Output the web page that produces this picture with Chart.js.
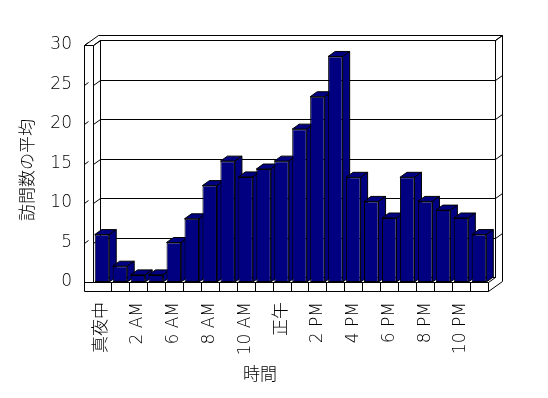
<!DOCTYPE html>
<html>
<head>
<meta charset="utf-8">
<script src="https://cdn.jsdelivr.net/npm/chart.js@4/dist/chart.umd.min.js"></script>
<style>
    html, body { margin: 0; padding: 0; background: #fff; }
    canvas { display: block; }
</style>
</head>
<body>
<canvas id="chart" width="548" height="398"></canvas>
<script>
// tick labels as shown under every other bar
const xLabels = ['真夜中', '', '2 AM', '', '6 AM', '', '8 AM', '', '10 AM', '', '正午', '',
    '2 PM', '', '4 PM', '', '6 PM', '', '8 PM', '', '10 PM', ''];
const visits = [6.0, 2.0, 0.9, 0.9, 5.0, 8.0, 12.2, 15.3, 13.3, 14.3, 15.3, 19.35,
    23.45, 28.55, 13.25, 10.2, 8.1, 13.25, 10.2, 9.1, 8.1, 6.0];
const yTitle = '訪問数の平均';
const xTitle = '時間';

const FONT = "'DejaVu Sans', 'Noto Sans CJK JP', sans-serif";
const NAVY = '#000080';
const DX = 7, DY = -5;   // depth offset of the 3d box

function line(ctx, pts) {
    ctx.beginPath();
    ctx.moveTo(pts[0][0], pts[0][1]);
    for (let i = 1; i < pts.length; i++) ctx.lineTo(pts[i][0], pts[i][1]);
    ctx.stroke();
}

function poly(ctx, pts, fill) {
    ctx.beginPath();
    ctx.moveTo(pts[0][0], pts[0][1]);
    for (let i = 1; i < pts.length; i++) ctx.lineTo(pts[i][0], pts[i][1]);
    ctx.closePath();
    ctx.fillStyle = fill;
    ctx.fill();
    ctx.stroke();
}

// walls, floor, gridlines and the side/top faces of the bars
const box3d = {
    id: 'box3d',
    beforeDatasetsDraw(chart) {
        const { ctx, chartArea: a, scales: { x, y } } = chart;
        const L = a.left + 0.5, R = a.right + 0.5, T = a.top + 0.5, B = a.bottom + 0.5;
        const OL = L - 9, OB = B + 9;
        ctx.save();
        ctx.lineWidth = 1;
        ctx.strokeStyle = '#000';

        poly(ctx, [[OL, OB], [OL, T], [OL + 2 * DX, T + 2 * DY], [R + 2 * DX, T + 2 * DY],
            [R + 2 * DX, OB + 2 * DY], [R, OB]], '#fff');

        // back wall
        ctx.strokeRect(L + DX, T + DY, R - L, B - T);
        line(ctx, [[L, B], [L, T], [L + DX, T + DY]]);
        line(ctx, [[OL, T], [L, T]]);
        line(ctx, [[R + DX, T + DY], [R + 2 * DX, T + 2 * DY]]);

        // floor
        line(ctx, [[OL, B], [R, B], [R + DX, B + DY]]);
        line(ctx, [[R, B], [R, OB]]);
        const cw = (a.right - a.left) / xLabels.length;
        for (let k = 1; k < xLabels.length; k++) {
            const px = Math.round(a.left + k * cw) + 0.5;
            line(ctx, [[px, B], [px, OB]]);
        }

        // gridlines
        y.ticks.forEach(t => {
            if (t.value === 0) return;
            const py = Math.round(y.getPixelForValue(t.value)) + 0.5;
            line(ctx, [[L, py], [L + DX, py + DY], [R + DX, py + DY], [R + 2 * DX, py + 2 * DY]]);
            line(ctx, [[OL, py], [OL + 4, py - 3]]);
        });

        // bar side and top faces
        chart.getDatasetMeta(0).data.forEach(bar => {
            const xl = bar.x - bar.width / 2, xr = bar.x + bar.width / 2;
            poly(ctx, [[xl, bar.y], [xr, bar.y], [xr + DX, bar.y + DY], [xl + DX, bar.y + DY]], NAVY);
            poly(ctx, [[xr, bar.y], [xr + DX, bar.y + DY], [xr + DX, bar.base + DY], [xr, bar.base]], NAVY);
        });
        ctx.restore();
    },
    afterDraw(chart) {
        const ctx = chart.ctx;
        ctx.save();
        ctx.fillStyle = '#000';
        ctx.font = '200 17px ' + FONT;
        ctx.textAlign = 'center';
        ctx.textBaseline = 'middle';
        ctx.fillText(xTitle, 260, 376);
        ctx.translate(29, 170);
        ctx.rotate(-Math.PI / 2);
        ctx.fillText(yTitle, 0, 0);
        ctx.restore();
    }
};

new Chart(document.getElementById('chart'), {
    type: 'bar',
    data: {
        labels: xLabels,
        datasets: [{
            data: visits,
            backgroundColor: NAVY,
            borderColor: '#000',
            borderWidth: 1,
            borderSkipped: false,
            categoryPercentage: 0.9,
            barPercentage: 0.9,
        }],
    },
    options: {
        responsive: false,
        animation: false,
        devicePixelRatio: 1,
        layout: { padding: { left: 0, right: 60, top: 45, bottom: 0 } },
        plugins: {
            legend: { display: false },
            tooltip: { enabled: false },
        },
        scales: {
            x: {
                afterFit: (axis) => { axis.height = 116; },
                grid: { display: false, drawTicks: false },
                border: { display: false },
                ticks: {
                    autoSkip: false,
                    minRotation: 90,
                    maxRotation: 90,
                    padding: 20,
                    color: '#000',
                    font: { size: 17, family: FONT, weight: 200 },
                },
            },
            y: {
                min: 0,
                max: 30,
                afterFit: (axis) => { axis.width = 93; },
                grid: { display: false, drawTicks: false },
                border: { display: false },
                ticks: {
                    stepSize: 5,
                    padding: 21,
                    color: '#000',
                    font: { size: 17, family: FONT, weight: 200 },
                },
            },
        },
    },
    plugins: [box3d],
});
</script>
</body>
</html>
